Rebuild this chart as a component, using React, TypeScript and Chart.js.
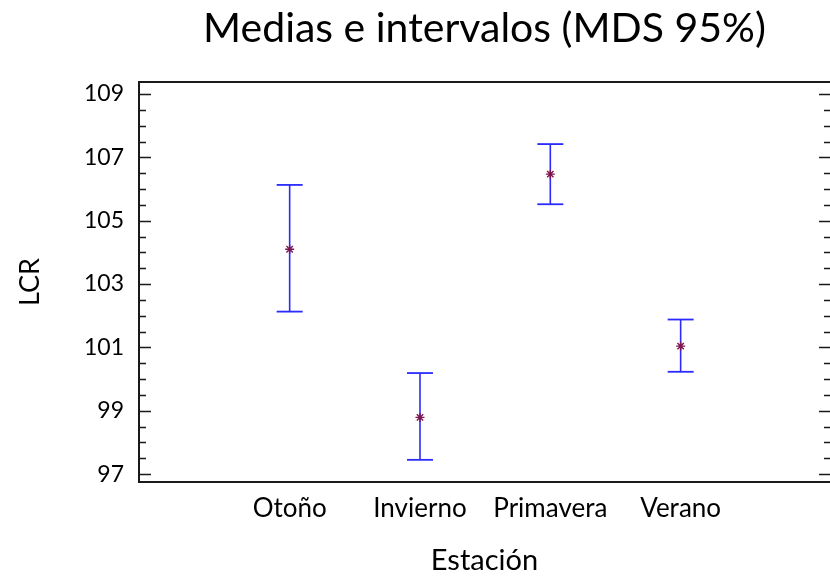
import { useEffect, useRef } from "react";
import { Chart, registerables } from "chart.js";

Chart.register(...registerables);

// Season means with their 95% LSD interval limits
const seasons = ["Otoño", "Invierno", "Primavera", "Verano"];
const means = [104.1, 98.79, 106.47, 101.04];
const lowerLimits = [102.13, 97.45, 105.52, 100.23];
const upperLimits = [106.13, 100.19, 107.42, 101.88];

// Labelled ticks on the LCR axis; three unlabelled minor ticks sit between each pair
const yMajorTicks = [97, 99, 101, 103, 105, 107, 109];
const minorPerMajor = 3;

const FONT = "Lato, 'Open Sans', sans-serif";
const AXIS_COLOR = "#1a1a1a";
const BAR_COLOR = "#2b2bff";
const MEAN_COLOR = "#7d1650";

// Inner tick marks on both vertical sides plus the top edge of the frame
const frameTicks = {
  id: "frameTicks",
  afterDatasetsDraw(chart: any) {
    const { ctx, chartArea } = chart;
    const y = chart.scales.y;
    const { left, right, top } = chartArea;
    ctx.save();
    ctx.strokeStyle = AXIS_COLOR;

    ctx.lineWidth = 2;
    ctx.beginPath();
    ctx.moveTo(left - 1, top);
    ctx.lineTo(right, top);
    ctx.stroke();

    ctx.lineWidth = 1.6;
    const step = yMajorTicks.length > 1 ? yMajorTicks[1] - yMajorTicks[0] : 1;
    yMajorTicks.forEach((v, idx) => {
      const py = Math.round(y.getPixelForValue(v)) + 0.5;
      ctx.beginPath();
      ctx.moveTo(left, py);
      ctx.lineTo(left + 12, py);
      ctx.moveTo(right - 11, py);
      ctx.lineTo(right, py);
      ctx.stroke();
      if (idx < yMajorTicks.length - 1) {
        for (let k = 1; k <= minorPerMajor; k++) {
          const mv = v + (step * k) / (minorPerMajor + 1);
          const my = Math.round(y.getPixelForValue(mv)) + 0.5;
          ctx.beginPath();
          ctx.moveTo(left, my);
          ctx.lineTo(left + 7, my);
          ctx.moveTo(right - 6, my);
          ctx.lineTo(right, my);
          ctx.stroke();
        }
      }
    });
    ctx.restore();
  },
};

export default function App() {
  const canvasRef = useRef<HTMLCanvasElement | null>(null);

  useEffect(() => {
    document.body.style.margin = "0";
    const canvas = canvasRef.current;
    if (!canvas) return;

    const intervalPoints: { x: number; y: number | null }[] = [];
    seasons.forEach((_, i) => {
      intervalPoints.push({ x: i + 1, y: lowerLimits[i] });
      intervalPoints.push({ x: i + 1, y: upperLimits[i] });
      intervalPoints.push({ x: i + 1, y: null });
    });
    const meanPoints = seasons.map((_, i) => ({ x: i + 1, y: means[i] }));

    const chart = new Chart(canvas, {
      type: "scatter",
      data: {
        datasets: [
          {
            label: "Media",
            data: meanPoints,
            order: 0,
            pointStyle: "star",
            pointRadius: 4.5,
            pointBorderWidth: 1.4,
            pointBorderColor: MEAN_COLOR,
            pointBackgroundColor: MEAN_COLOR,
            showLine: false,
          },
          {
            label: "Intervalo",
            data: intervalPoints as any,
            order: 1,
            showLine: true,
            spanGaps: false,
            borderColor: BAR_COLOR,
            borderWidth: 1.6,
            pointStyle: "line",
            pointRadius: 13,
            pointBorderWidth: 1.8,
            pointBorderColor: BAR_COLOR,
            pointBackgroundColor: BAR_COLOR,
          },
        ],
      },
      options: {
        responsive: false,
        animation: false,
        devicePixelRatio: 1,
        layout: { padding: 0, autoPadding: false },
        plugins: {
          legend: { display: false },
          tooltip: { enabled: false },
          title: {
            display: true,
            text: "Medias e intervalos (MDS 95%)",
            fullSize: false,
            color: "#000",
            font: { family: FONT, size: 41, weight: "normal" },
            padding: { top: 4.4, bottom: 28.4 },
          },
        },
        scales: {
          x: {
            type: "linear",
            min: -0.156,
            max: 5.146,
            grid: { display: false, drawTicks: false },
            border: { display: true, color: AXIS_COLOR, width: 2 },
            afterBuildTicks: (scale: any) => {
              scale.ticks = seasons.map((_, i) => ({ value: i + 1 }));
            },
            afterFit: (scale: any) => {
              scale.height = 96;
            },
            ticks: {
              color: "#000",
              font: { family: FONT, size: 26 },
              padding: 11.4,
              maxRotation: 0,
              autoSkip: false,
              callback: (value: any) => seasons[Number(value) - 1] ?? "",
            },
            title: {
              display: true,
              text: "Estación",
              color: "#000",
              font: { family: FONT, size: 29 },
              padding: { top: 0, bottom: 0 },
            },
          },
          y: {
            type: "linear",
            min: 96.75,
            max: 109.38,
            grid: { display: false, drawTicks: false },
            border: { display: true, color: AXIS_COLOR, width: 2 },
            afterBuildTicks: (scale: any) => {
              scale.ticks = yMajorTicks.map((v) => ({ value: v }));
            },
            afterFit: (scale: any) => {
              scale.width = 139;
            },
            ticks: {
              color: "#000",
              font: { family: FONT, size: 23 },
              padding: 15,
              callback: (value: any) => String(value),
            },
            title: {
              display: true,
              text: "LCR",
              color: "#000",
              font: { family: FONT, size: 27 },
              padding: { top: 14, bottom: 0 },
            },
          },
        },
      },
      plugins: [frameTicks],
    });

    return () => chart.destroy();
  }, []);

  return (
    <div style={{ width: 830, height: 578, overflow: "hidden" }}>
      <canvas ref={canvasRef} width={830} height={578} style={{ display: "block" }} />
    </div>
  );
}
